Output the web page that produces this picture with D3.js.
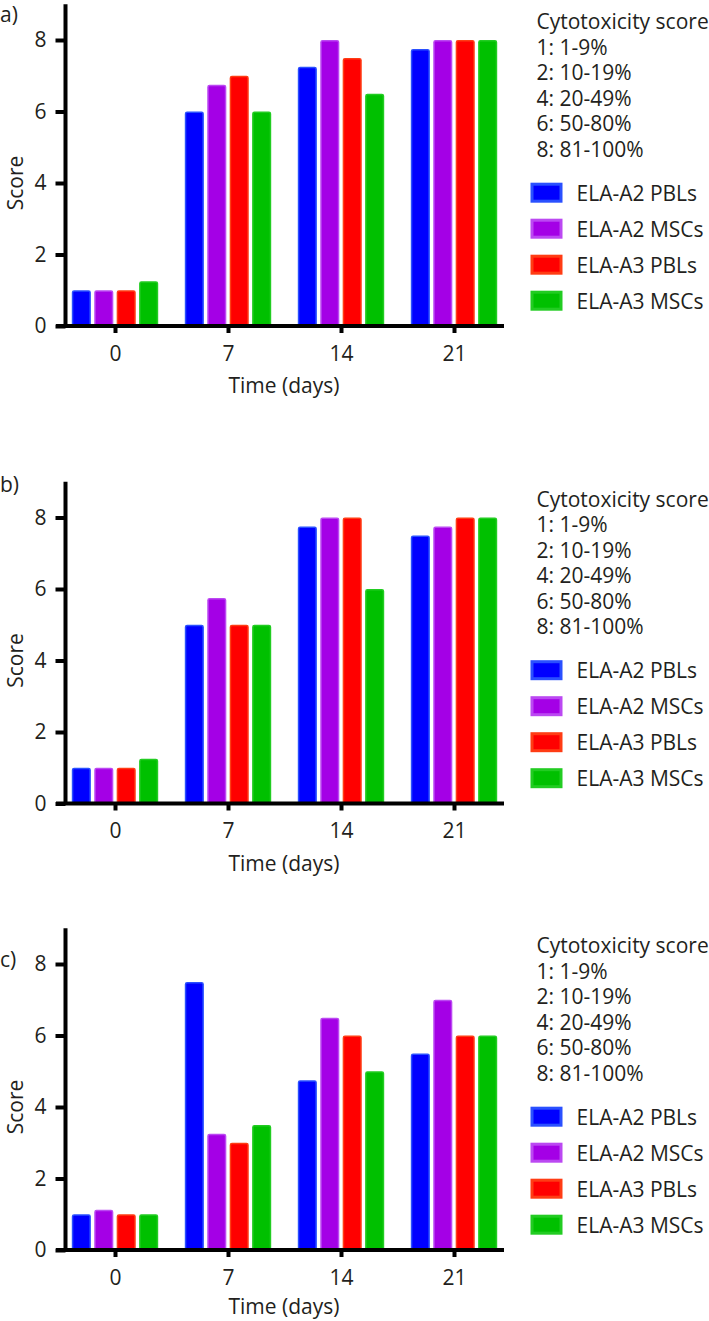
<!DOCTYPE html>
<html>
<head>
<meta charset="utf-8">
<script src="https://cdn.jsdelivr.net/npm/d3@7"></script>
<style>
  html, body { margin: 0; padding: 0; background: #fff; }
  svg { display: block; }
  text { font-family: "Open Sans", "Noto Sans", sans-serif; fill: #231f20; }
</style>
</head>
<body>
<svg id="chart" width="709" height="1321"></svg>
<script>
// ---- data ----
const days = ["0", "7", "14", "21"];
const seriesNames = ["ELA-A2 PBLs", "ELA-A2 MSCs", "ELA-A3 PBLs", "ELA-A3 MSCs"];
const seriesFill = ["#0000ff", "#a400e6", "#ff0000", "#00c000"];
const seriesEdge = ["#2a50ff", "#bb48f2", "#ff3c14", "#22cc22"];
const panelLabels = ["a)", "b)", "c)"];
const yTicks = [0, 2, 4, 6, 8];
const scoreLegend = ["Cytotoxicity score", "1: 1-9%", "2: 10-19%", "4: 20-49%", "6: 50-80%", "8: 81-100%"];

// values: [panel][series][day]
const panelA = [
  [1, 6, 7.25, 7.75],
  [1, 6.75, 8, 8],
  [1, 7, 7.5, 8],
  [1.25, 6, 6.5, 8]
];
const panelB = [
  [1, 5, 7.75, 7.5],
  [1, 5.75, 8, 7.75],
  [1, 5, 8, 8],
  [1.25, 5, 6, 8]
];
const panelC = [
  [1, 7.5, 4.75, 5.5],
  [1.125, 3.25, 6.5, 7],
  [1, 3, 6, 6],
  [1, 3.5, 5, 6]
];
const panels = [panelA, panelB, panelC];

// ---- layout ----
const baseY = [326, 803.5, 1250];       // y pixel of value 0 per panel
const labelDy = [-304.5, -312, -283];    // panel letter baseline relative to baseline
const xTitleDy = [67, 67, 63.5];         // x-axis title baseline relative to baseline
const unit = 35.75;
const axisX = 65.5;
const svg = d3.select("#chart");

const x0 = d3.scaleBand().domain(days).range([58.5, 510.5]).padding(0);
const x1 = d3.scaleBand().domain(seriesNames).range([-43.2, 43.2]).paddingInner(0.15);
const color = d3.scaleOrdinal().domain(seriesNames).range(seriesFill);
const edge = d3.scaleOrdinal().domain(seriesNames).range(seriesEdge);

panels.forEach((vals, p) => {
  const y0 = baseY[p];
  const y = d3.scaleLinear().domain([0, 9]).range([y0, y0 - 9 * unit]);
  const g = svg.append("g");

  // bars
  seriesNames.forEach((s, si) => {
    g.selectAll(null)
      .data(days.map((d, di) => ({ day: d, v: vals[si][di] })))
      .join("rect")
      .attr("x", d => x0(d.day) + x0.bandwidth() / 2 + x1(s) + 0.75)
      .attr("width", x1.bandwidth() - 1.5)
      .attr("y", d => y(d.v) + 0.75)
      .attr("height", d => y0 - y(d.v))
      .attr("rx", 1.5)
      .attr("fill", color(s))
      .attr("stroke", edge(s))
      .attr("stroke-width", 1.5);
  });

  // y axis
  const yAxis = d3.axisLeft(y).tickValues(yTicks).tickSize(10).tickPadding(9).tickSizeOuter(0);
  const ya = g.append("g").attr("transform", `translate(${axisX},0)`).call(yAxis);
  ya.select(".domain").attr("stroke", "#000").attr("stroke-width", 4).attr("d", `M0,${y(9)}V${y0}`);
  ya.selectAll(".tick line").attr("stroke", "#000").attr("stroke-width", 4);
  ya.selectAll(".tick text").style("font-size", "21px").attr("fill", "#231f20");

  // x axis
  const xScalePts = d3.scalePoint().domain(days).range([x0("0") + x0.bandwidth() / 2, x0("21") + x0.bandwidth() / 2]);
  const xAxis = d3.axisBottom(xScalePts).tickSize(7).tickPadding(13).tickSizeOuter(0);
  const xa = g.append("g").attr("transform", `translate(0,${y0})`).call(xAxis);
  xa.select(".domain").attr("stroke", "#000").attr("stroke-width", 4).attr("d", "M56,0H504");
  xa.selectAll(".tick line").attr("stroke", "#000").attr("stroke-width", 4).attr("y1", 0);
  xa.selectAll(".tick text").style("font-size", "21px").attr("fill", "#231f20");

  // axis titles
  g.append("text")
    .attr("transform", `translate(23,${y(4)}) rotate(-90)`)
    .attr("text-anchor", "middle")
    .style("font-size", "21px")
    .text("Score");
  g.append("text")
    .attr("x", 284).attr("y", y0 + xTitleDy[p])
    .attr("text-anchor", "middle")
    .style("font-size", "21px")
    .text("Time (days)");

  // panel label
  g.append("text")
    .attr("x", 0).attr("y", y0 + labelDy[p])
    .style("font-size", "21px")
    .text(panelLabels[p]);

  // score legend
  g.selectAll(null).data(scoreLegend).join("text")
    .attr("x", 536.5)
    .attr("y", (d, i) => y0 - 297 + i * 25.5)
    .style("font-size", "21px")
    .text(d => d);

  // series legend
  const leg = g.selectAll(null).data(seriesNames).join("g")
    .attr("transform", (d, i) => `translate(0,${y0 - 143.3 + i * 36})`);
  leg.append("rect")
    .attr("x", 532).attr("y", 1.5)
    .attr("width", 29).attr("height", 17)
    .attr("fill", d => color(d))
    .attr("stroke", d => edge(d))
    .attr("stroke-width", 3);
  leg.append("text")
    .attr("x", 576.5).attr("y", 18)
    .style("font-size", "21px")
    .text(d => d);
});
</script>
</body>
</html>
